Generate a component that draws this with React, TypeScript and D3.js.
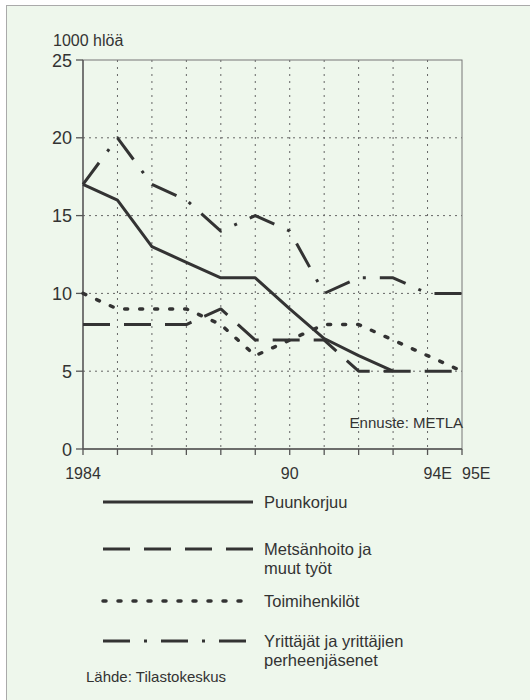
import React from 'react'
import * as d3 from 'd3'

// vuodet 1984..1995
const years = [1984, 1985, 1986, 1987, 1988, 1989, 1990, 1991, 1992, 1993, 1994, 1995]
const yearLabels: Record<number, string> = { 1984: '1984', 1990: '90', 1994: '94E', 1995: '95E' }
const yTicks = [0, 5, 10, 15, 20, 25]

const puunkorjuu = [17, 16, 13, 12, 11, 11, 9, 7.1, 6, 5]
const metsanhoito = [8, 8, 8, 8, 9, 7, 7, 7, 5, 5, 5, 5]
const toimihenkilot = [10, 9, 9, 9, 8, 6, 7, 8, 8, 7, 6, 5]
const yrittajat = [17, 20, 17, 16, 14, 15, 14, 10, 11, 11, 10, 10]

const seriesNames = ['Puunkorjuu', 'Metsänhoito ja|muut työt', 'Toimihenkilöt', 'Yrittäjät ja yrittäjien|perheenjäsenet']

const dashes = ['none', '27,14', '3,12', '27,14,3,14']
const font = "'Liberation Sans', Arial, sans-serif"
const ink = '#333'

const App = () => {
    const width = 530
    const height = 700
    const left = 83, right = 462, top = 60, bottom = 449

    const x = d3.scaleLinear().domain([1984, 1995]).range([left, right])
    const y = d3.scaleLinear().domain([0, 25]).range([bottom, top])

    const line = d3.line<number>()
        .x((d, i) => x(years[i]))
        .y(d => y(d))

    const allSeries = [puunkorjuu, metsanhoito, toimihenkilot, yrittajat]
    const legendY = [502, 549, 601, 641]

    const labelX = (yr: number) => yr === 1994 ? x(yr) - 4 : yr === 1995 ? x(yr) : x(yr)
    const labelAnchor = (yr: number) => yr >= 1994 ? 'start' : 'middle'

    return (
        <svg width={width} height={height} style={{ position: 'absolute', left: 0, top: 0 }} fontFamily={font}>
            <rect x={0} y={0} width={width} height={height} fill="#fff" />
            <rect x={6.5} y={5.5} width={width} height={height} fill="#eef7ec" stroke="#aaa" />

            {/* ruudukko */}
            {years.slice(1, -1).map(yr => (
                <line key={'v' + yr} x1={x(yr)} x2={x(yr)} y1={top} y2={bottom}
                    stroke="#666" strokeWidth={1} strokeDasharray="2,5" />
            ))}
            {yTicks.slice(1, -1).map(t => (
                <line key={'h' + t} x1={left} x2={right} y1={y(t)} y2={y(t)}
                    stroke="#666" strokeWidth={1} strokeDasharray="2,4" />
            ))}
            <rect x={left} y={top} width={right - left} height={bottom - top} fill="none" stroke="#777" strokeWidth={1} />

            {/* y-akseli */}
            <line x1={left} x2={left} y1={top} y2={bottom} stroke="#555" strokeWidth={1.3} />
            {yTicks.map(t => (
                <g key={'yt' + t}>
                    <line x1={left - 7} x2={left} y1={y(t)} y2={y(t)} stroke="#555" strokeWidth={1.3} />
                    <text x={left - 11} y={y(t) + 6.5} textAnchor="end" fontSize={18} fill={ink}>{t}</text>
                </g>
            ))}
            <text x={53} y={46} fontSize={16} fill={ink}>1000 hlöä</text>

            {/* x-akseli */}
            <line x1={left} x2={right} y1={bottom} y2={bottom} stroke="#555" strokeWidth={1.3} />
            {years.map(yr => (
                <line key={'xt' + yr} x1={x(yr)} x2={x(yr)} y1={bottom} y2={bottom + 6} stroke="#555" strokeWidth={1.3} />
            ))}
            {years.filter(yr => yearLabels[yr]).map(yr => (
                <text key={'xl' + yr} x={labelX(yr)} y={479} textAnchor={labelAnchor(yr)} fontSize={16} fill={ink}>
                    {yearLabels[yr]}
                </text>
            ))}

            <text x={463} y={428} textAnchor="end" fontSize={15} fill={ink}>Ennuste: METLA</text>

            {allSeries.map((s, i) => (
                <path key={'s' + i} d={line(s) || ''} fill="none" stroke={ink}
                    strokeWidth={i === 2 ? 3.5 : 3} strokeDasharray={dashes[i]}
                    strokeLinecap={i === 2 ? 'round' : 'butt'} strokeLinejoin="round" />
            ))}

            {/* selite */}
            {seriesNames.map((name, i) => (
                <g key={'lg' + i}>
                    <line x1={103} x2={253} y1={legendY[i]} y2={legendY[i]} stroke={ink}
                        strokeWidth={i === 2 ? 3.5 : 3} strokeDasharray={dashes[i]}
                        strokeLinecap={i === 2 ? 'round' : 'butt'} />
                    {name.split('|').map((part, j) => (
                        <text key={j} x={264} y={legendY[i] + 6 + j * 19} fontSize={16.5} fill={ink}>{part}</text>
                    ))}
                </g>
            ))}
            <text x={86} y={682} fontSize={15} fill={ink}>Lähde: Tilastokeskus</text>
        </svg>
    )
}

export default App
